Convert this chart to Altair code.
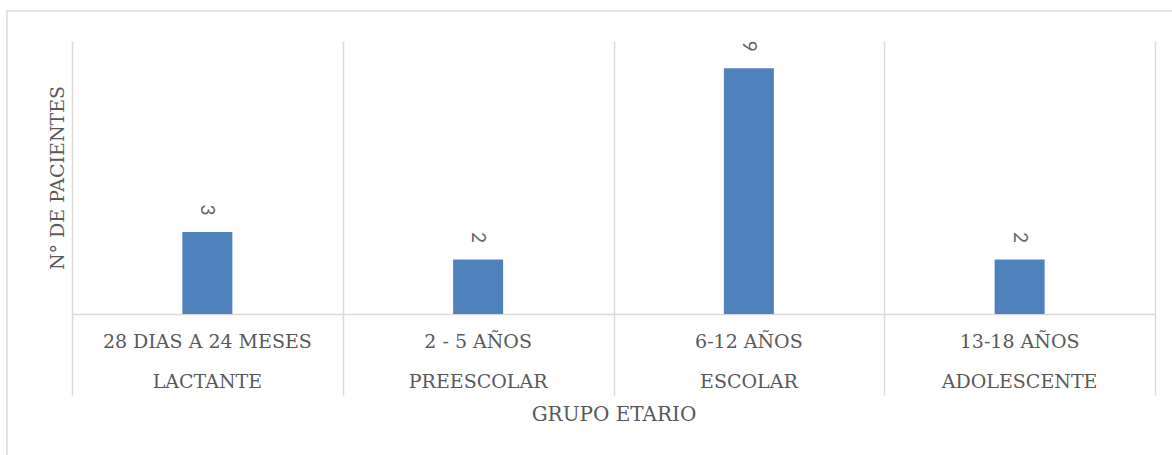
import altair as alt
import pandas as pd

# Age ranges (first label row), group names (second row) and patient counts
rangos = ["28 DIAS A 24 MESES", "2 - 5 AÑOS", "6-12 AÑOS", "13-18 AÑOS"]
grupos = ["LACTANTE", "PREESCOLAR", "ESCOLAR", "ADOLESCENTE"]
pacientes = [3, 2, 9, 2]

df = pd.DataFrame({"rango": rangos, "grupo": grupos, "n": pacientes})

W, H = 1083, 273
GRID = "#D9D9D9"
TXT = "#595959"
SERIF = "DejaVu Serif"

x_enc = alt.X(
    "rango:N",
    sort=rangos,
    scale=alt.Scale(paddingInner=0, paddingOuter=0),
    axis=alt.Axis(
        title="GRUPO ETARIO",
        labels=False,
        tickBand="extent",
        tickSize=81,
        tickColor=GRID,
        tickWidth=1.5,
        domainColor=GRID,
        domainWidth=1.5,
        grid=True,
        gridColor=GRID,
        gridWidth=1.5,
        titleFont=SERIF,
        titleFontSize=20,
        titleFontWeight="normal",
        titleColor=TXT,
        titleY=100,
        titleBaseline="middle",
    ),
)

y_enc = alt.Y(
    "n:Q",
    scale=alt.Scale(domain=[0, 10], nice=False),
    axis=alt.Axis(
        title="N° DE PACIENTES",
        labels=False,
        ticks=False,
        domain=False,
        grid=False,
        titleFont=SERIF,
        titleFontSize=19,
        titleFontWeight="normal",
        titleColor=TXT,
        titleAngle=270,
        titleX=-15,
        titleY=H / 2,
        titleAlign="center",
        titleBaseline="middle",
    ),
)

base = alt.Chart(df)

bars = base.mark_bar(color="#4F81BD", size=50).encode(x=x_enc, y=y_enc)

valores = base.mark_text(
    angle=90, align="center", baseline="middle", yOffset=-22,
    font="Lato", fontSize=19, color="#666666",
).encode(x=alt.X("rango:N", sort=rangos), y="n:Q", text="n:Q")

fila1 = base.mark_text(
    baseline="middle", font=SERIF, fontSize=19, color=TXT,
).encode(x=alt.X("rango:N", sort=rangos), y=alt.value(H + 28), text="rango:N")

fila2 = base.mark_text(
    baseline="middle", font=SERIF, fontSize=19, color=TXT,
).encode(x=alt.X("rango:N", sort=rangos), y=alt.value(H + 68), text="grupo:N")

marco = alt.Chart(alt.Data(values=[{}])).mark_rect(
    fill="transparent", stroke=GRID, strokeWidth=1.5,
).encode(
    x=alt.value(-65), x2=alt.value(W + 200),
    y=alt.value(-30), y2=alt.value(H + 300),
)

chart = alt.layer(marco, bars, valores, fila1, fila2).properties(
    width=W,
    height=H,
    autosize=alt.AutoSizeParams(type="none"),
    padding={"left": 72, "top": 41, "right": 17, "bottom": 141},
    background="white",
).configure_view(strokeWidth=0)

chart.save("out.html", embed_options={"renderer": "svg", "actions": False})
